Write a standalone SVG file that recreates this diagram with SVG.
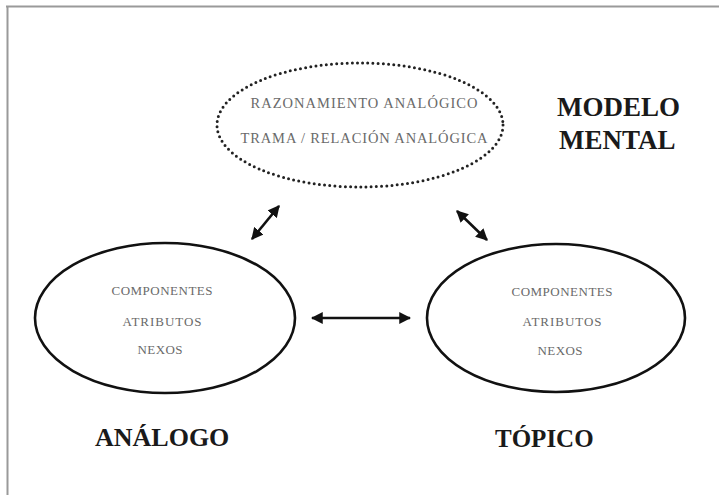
<svg xmlns="http://www.w3.org/2000/svg" width="719" height="495" viewBox="0 0 719 495">
<defs>
<style>
.small{font-family:"Liberation Serif","Times New Roman",serif;fill:#6a6a6a;text-anchor:middle}
.big{font-family:"Liberation Serif","Times New Roman",serif;font-weight:bold;fill:#1a1a1a}
.ell{fill:none;stroke:#111;stroke-width:2.6}
.conn{stroke:#111;stroke-width:2.6;fill:none;marker-start:url(#ah);marker-end:url(#ah)}
</style>
<marker id="ah" viewBox="0 0 10 10" refX="9" refY="5" markerWidth="4.6" markerHeight="4.6" orient="auto-start-reverse" markerUnits="strokeWidth">
<path d="M0,0 L10,5 L0,10 Z" fill="#111"/>
</marker>
</defs>
<rect width="719" height="495" fill="#fff"/>
<g id="frame">
<line x1="6" y1="6.5" x2="719" y2="6.5" stroke="#9a9a9a" stroke-width="2"/>
<line x1="7.5" y1="6" x2="7.5" y2="495" stroke="#9a9a9a" stroke-width="2"/>
</g>
<g id="modelo-mental-ellipse">
<ellipse cx="360" cy="125" rx="143" ry="62" fill="none" stroke="#222" stroke-width="3" stroke-dasharray="0 5.2" stroke-linecap="round"/>
<text class="small" x="364" y="108" font-size="14.5" textLength="227">RAZONAMIENTO ANALÓGICO</text>
<text class="small" x="364" y="143" font-size="14.5" textLength="247">TRAMA / RELACIÓN ANALÓGICA</text>
</g>
<g id="modelo-mental-label">
<text class="big" x="557" y="116" font-size="27">MODELO</text>
<text class="big" x="559" y="149" font-size="27">MENTAL</text>
</g>
<g id="analogo">
<ellipse class="ell" cx="165" cy="318" rx="130" ry="75"/>
<text class="small" x="162" y="295" font-size="13" textLength="101">COMPONENTES</text>
<text class="small" x="162" y="326" font-size="13" textLength="79">ATRIBUTOS</text>
<text class="small" x="160" y="354" font-size="13" textLength="45">NEXOS</text>
<text class="big" x="95" y="446" font-size="26">ANÁLOGO</text>
</g>
<g id="topico">
<ellipse class="ell" cx="556" cy="318" rx="129" ry="74"/>
<text class="small" x="562" y="296" font-size="13" textLength="101">COMPONENTES</text>
<text class="small" x="562" y="326" font-size="13" textLength="79">ATRIBUTOS</text>
<text class="small" x="560" y="355" font-size="13" textLength="45">NEXOS</text>
<text class="big" x="495" y="447" font-size="25">TÓPICO</text>
</g>
<g id="connectors">
<line class="conn" x1="252" y1="239" x2="279" y2="206"/>
<line class="conn" x1="457" y1="211" x2="487" y2="240"/>
<line class="conn" x1="312" y1="318" x2="410" y2="318"/>
</g>
</svg>
